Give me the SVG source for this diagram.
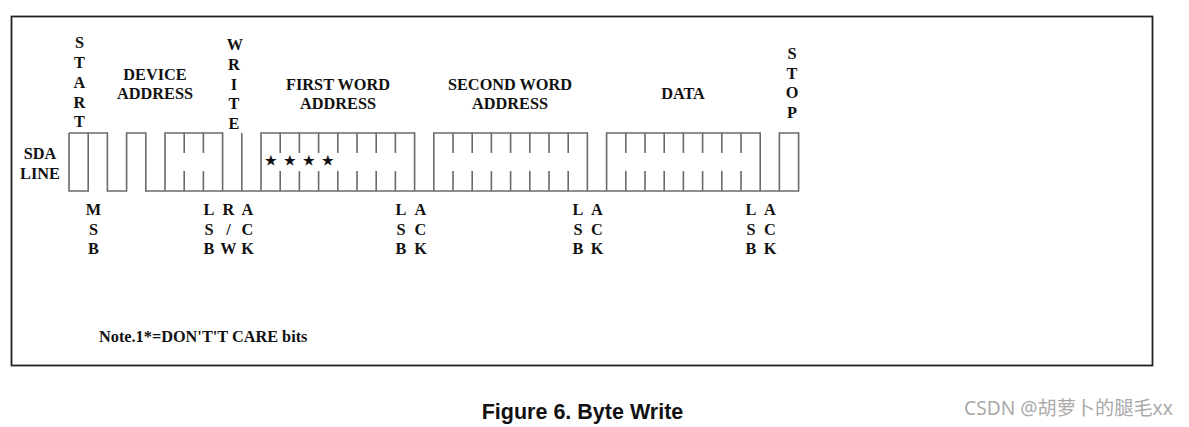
<svg xmlns="http://www.w3.org/2000/svg" width="1189" height="427" viewBox="0 0 1189 427">
<style>
.t{font-family:"Liberation Serif","Times New Roman",serif;font-weight:bold;font-size:16.3px;fill:#111;text-anchor:middle}
.w{fill:none;stroke:#6a6a6a;stroke-width:1.6}
.s{font-size:12.500px}
</style>
<rect width="1189" height="427" fill="#fff"/>
<rect x="11.500" y="16.500" width="1141" height="349" fill="none" stroke="#222" stroke-width="1.800"/>
<g id="connectors">
<path class="w" d="M69 133V191H88.200V133M69 133H107.400V191H126.600V133H145.800V191H798.600V133H779.400V191M165 191V133H222.600V191M241.800 133V191M261 191V133H414.600V191M433.800 191V133H587.400V191M606.600 191V133H760.200V191"/>
<path class="w" d="M184.200 133V153M184.200 171V191M203.400 133V153M203.400 171V191M280.200 133V153M280.200 171V191M299.400 133V153M299.400 171V191M318.600 133V153M318.600 171V191M337.800 133V153M337.800 171V191M357 133V153M357 171V191M376.200 133V153M376.200 171V191M395.400 133V153M395.400 171V191M453 133V153M453 171V191M472.200 133V153M472.200 171V191M491.400 133V153M491.400 171V191M510.600 133V153M510.600 171V191M529.800 133V153M529.800 171V191M549 133V153M549 171V191M568.200 133V153M568.200 171V191M625.800 133V153M625.800 171V191M645 133V153M645 171V191M664.200 133V153M664.200 171V191M683.400 133V153M683.400 171V191M702.600 133V153M702.600 171V191M721.800 133V153M721.800 171V191M741 133V153M741 171V191"/>
</g>
<g id="top-labels" class="t">
<g id="start"><text x="79.500" y="48">S</text><text x="79.500" y="68">T</text><text x="79.500" y="88">A</text><text x="79.500" y="108">R</text><text x="79.500" y="127">T</text></g>
<g id="device"><text x="155" y="80">DEVICE</text><text x="155" y="99">ADDRESS</text></g>
<g id="write"><text x="235" y="50">W</text><text x="234" y="70">R</text><text x="234" y="90">I</text><text x="234" y="109">T</text><text x="234" y="129">E</text></g>
<g id="first"><text x="338" y="89.500">FIRST WORD</text><text x="338" y="108.500">ADDRESS</text></g>
<g id="second"><text x="510" y="89.500">SECOND WORD</text><text x="510" y="108.500">ADDRESS</text></g>
<g id="data"><text x="683" y="99">DATA</text></g>
<g id="stop"><text x="792" y="59">S</text><text x="792" y="79">T</text><text x="792" y="98">O</text><text x="792" y="118">P</text></g>
<g id="sda"><text x="40" y="159">SDA</text><text x="40" y="179">LINE</text></g>
</g>
<g id="stars" class="t s"><text x="270.700" y="165">★</text><text x="289.900" y="165">★</text><text x="309.100" y="165">★</text><text x="328.300" y="165">★</text></g>
<g id="bottom-labels" class="t">
<g id="msb"><text x="93.500" y="215">M</text><text x="93.500" y="235">S</text><text x="93.500" y="254">B</text></g>
<g id="lsb1"><text x="209" y="215">L</text><text x="209" y="235">S</text><text x="209" y="254">B</text></g>
<g id="rw"><text x="228.500" y="215">R</text><text x="228.500" y="235">/</text><text x="228.500" y="254">W</text></g>
<g id="ack1"><text x="247.500" y="215">A</text><text x="247.500" y="235">C</text><text x="247.500" y="254">K</text></g>
<g id="lsb2"><text x="401" y="215">L</text><text x="401" y="235">S</text><text x="401" y="254">B</text></g>
<g id="ack2"><text x="420.500" y="215">A</text><text x="420.500" y="235">C</text><text x="420.500" y="254">K</text></g>
<g id="lsb3"><text x="578" y="215">L</text><text x="578" y="235">S</text><text x="578" y="254">B</text></g>
<g id="ack3"><text x="597" y="215">A</text><text x="597" y="235">C</text><text x="597" y="254">K</text></g>
<g id="lsb4"><text x="751" y="215">L</text><text x="751" y="235">S</text><text x="751" y="254">B</text></g>
<g id="ack4"><text x="770" y="215">A</text><text x="770" y="235">C</text><text x="770" y="254">K</text></g>
</g>
<text id="note" class="t" x="99" y="341.500" style="text-anchor:start">Note.1*=DON'T'T CARE bits</text>
<text id="caption" x="582.500" y="419" text-anchor="middle" font-family="Liberation Sans,Arial,sans-serif" font-weight="bold" font-size="21.500" fill="#111">Figure 6. Byte Write</text>
<text id="watermark" x="964" y="415" font-family="Noto Sans,Noto Sans CJK SC,sans-serif" font-size="19.200" fill="#aaa">CSDN @胡萝卜的腿毛xx</text>
</svg>
